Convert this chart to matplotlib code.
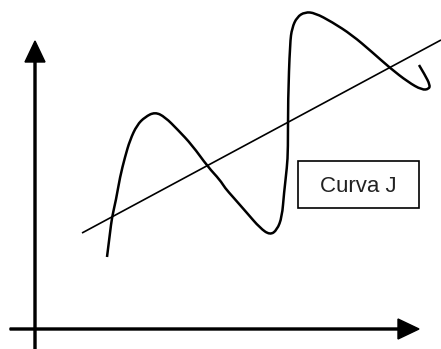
import matplotlib.pyplot as plt
from matplotlib.patches import Rectangle, PathPatch
from matplotlib.path import Path

# Points (pixel units, y grows downwards)
curve_x = [107, 110, 112, 116, 120, 125, 130, 137, 145, 155, 165, 178, 192, 208, 220, 225,
           233, 247, 260, 270, 277, 282, 284, 287, 288, 288, 290, 292, 297, 305, 315, 332,
           352, 372, 390, 408, 422, 429, 430, 425, 419]
curve_y = [257, 233, 217, 200, 177, 157, 140, 125, 117, 112, 117, 130, 145, 167, 180, 188,
           197, 213, 228, 235, 230, 217, 193, 167, 150, 100, 43, 28, 17, 12, 13, 22,
           35, 52, 68, 82, 90, 89, 85, 75, 65]

line_x = [82, 441]
line_y = [233, 40]

label = 'Curva J'

fig = plt.figure(figsize=(4.41, 3.49), dpi=100)
ax = fig.add_axes([0, 0, 1, 1])
ax.set_xlim(0, 441)
ax.set_ylim(349, 0)
ax.axis('off')

# axes with arrow heads
ax.arrow(35, 349, 0, -308, width=2, head_width=20, head_length=21,
         length_includes_head=True, fc='black', ec='black')
ax.arrow(10, 329, 409, 0, width=2, head_width=20, head_length=21,
         length_includes_head=True, fc='black', ec='black')

ax.plot(line_x, line_y, color='black', lw=1.2, solid_capstyle='butt')

# smooth curve: quadratic segments through the midpoints of the read points
pts = list(zip(curve_x, curve_y))
verts = [pts[0]]
codes = [Path.MOVETO]
for i in range(1, len(pts) - 1):
    mid = ((pts[i][0] + pts[i + 1][0]) / 2, (pts[i][1] + pts[i + 1][1]) / 2)
    if i == len(pts) - 2:
        mid = pts[-1]
    verts += [pts[i], mid]
    codes += [Path.CURVE3, Path.CURVE3]
ax.add_patch(PathPatch(Path(verts, codes), fill=False, ec='black', lw=1.8,
                       joinstyle='round', capstyle='butt'))

ax.add_patch(Rectangle((298, 161), 121, 47, fill=False, ec='black', lw=1.2))
ax.text(358, 187, label, ha='center', va='center', fontsize=16,
        family='Liberation Sans', color='#222222')

fig.savefig('out.png', dpi=100)
